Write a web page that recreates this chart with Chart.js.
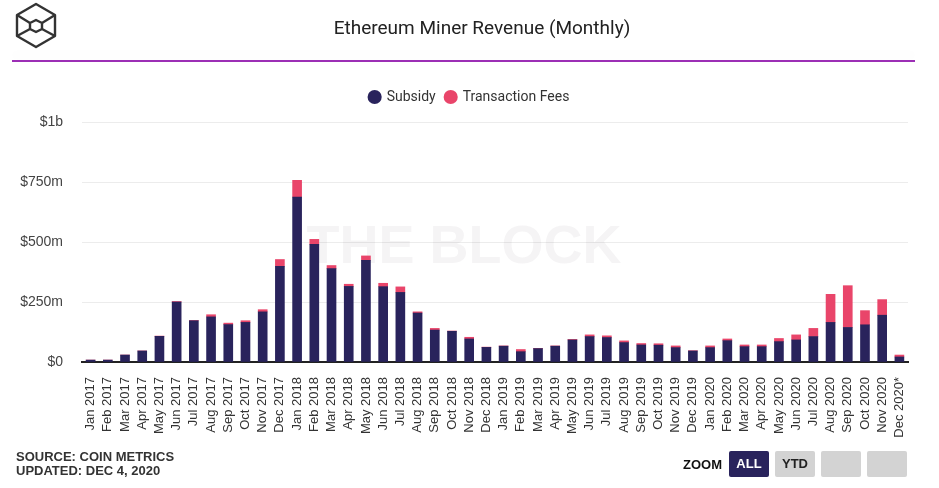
<!DOCTYPE html>
<html>
<head>
<meta charset="utf-8">
<script src="https://cdn.jsdelivr.net/npm/chart.js@4"></script>
<style>
  body { margin: 0; background: #fff; font-family: "Liberation Sans", Arial, sans-serif; }
  #wrap { position: relative; width: 939px; height: 488px; overflow: hidden; }
  #chart { position: absolute; left: 0; top: 0; }
  #logo { position: absolute; left: 12px; top: 1px; }
  #title { position: absolute; left: 0; top: 16px; width: 964px; text-align: center;
           font-family: Roboto, sans-serif; font-size: 19px; line-height: 24px; color: #222; }
  #rule { position: absolute; left: 12px; top: 60px; width: 903px; height: 2px; background: #9c2fb5;
          box-shadow: 0 -6px 8px rgba(0,0,0,0.04); }
  #source { position: absolute; left: 16px; top: 450px; font-weight: bold; font-size: 13px; line-height: 14px; color: #333; }
  #zoom { position: absolute; left: 683px; top: 451px; display: flex; align-items: center; font-size: 13px; font-weight: bold; }
  #zoom .lbl { margin-right: 7px; color: #111; }
  #zoom .btn { width: 40px; height: 26px; line-height: 26px; text-align: center; border-radius: 2px;
               background: #d3d3d3; color: #222; margin-right: 6px; }
  #zoom .btn.on { background: #29235c; color: #fff; }
</style>
</head>
<body>
<div id="wrap">
  <canvas id="chart" width="939" height="488"></canvas>
  <svg id="logo" width="48" height="50" viewBox="0 0 48 50">
    <g fill="none" stroke="#333" stroke-width="2.4" stroke-linejoin="round">
      <polygon points="24,3 43,14 43,35 24,46 5,35 5,14"/>
      <polygon points="24,19 30,22 30,28 24,31 18,28 18,22"/>
      <line x1="5" y1="14" x2="18" y2="22"/>
      <line x1="43" y1="14" x2="30" y2="22"/>
      <line x1="5" y1="35" x2="18" y2="28"/>
      <line x1="43" y1="35" x2="30" y2="28"/>
    </g>
  </svg>
  <div id="title">Ethereum Miner Revenue (Monthly)</div>
  <div id="rule"></div>
  <div id="source">SOURCE: COIN METRICS<br>UPDATED: DEC 4, 2020</div>
  <div id="zoom">
    <span class="lbl">ZOOM</span>
    <div class="btn on">ALL</div>
    <div class="btn">YTD</div>
    <div class="btn"></div>
    <div class="btn"></div>
  </div>
</div>
<script>
const months = ["Jan", "Feb", "Mar", "Apr", "May", "Jun", "Jul", "Aug", "Sep", "Oct", "Nov", "Dec"];
const years = [2017, 2018, 2019, 2020];

// values in $ millions
const subsidy = [
    8, 8, 29, 46, 107, 250, 172, 188, 156, 165, 209, 399,
    687, 490, 389, 315, 424, 314, 290, 204, 133, 128, 96, 61,
    66, 43, 56, 66, 92, 106, 102, 81, 71, 70, 60, 46,
    60, 89, 64, 64, 85, 92, 106, 165, 144, 155, 195, 21
];
const fees = [
    0, 0, 0, 0, 1, 2, 1, 9, 6, 7, 9, 28,
    70, 21, 13, 9, 18, 14, 23, 5, 7, 1, 7, 1,
    1, 9, 1, 1, 2, 7, 7, 7, 6, 6, 7, 1,
    7, 7, 7, 7, 13, 21, 34, 117, 174, 59, 65, 8
];
const tickLabels = ["$0", "$250m", "$500m", "$750m", "$1b"];

let labels = [];
years.forEach(y => months.forEach(m => labels.push(m + " " + y)));
labels[labels.length - 1] += "*";

// faint "THE BLOCK" mark behind the bars
const watermark = {
    id: "watermark",
    beforeDatasetsDraw(chart) {
        const ctx = chart.ctx;
        ctx.save();
        ctx.font = "bold 54px 'Liberation Sans', Arial, sans-serif";
        ctx.fillStyle = "rgba(60, 40, 60, 0.05)";
        ctx.textAlign = "center";
        ctx.textBaseline = "middle";
        ctx.fillText("THE BLOCK", 464, 248);
        ctx.restore();
    }
};

// a bit more room under the legend
const legendGap = {
    id: "legendGap",
    beforeInit(chart) {
        const fit = chart.legend.fit;
        chart.legend.fit = function () {
            fit.bind(chart.legend)();
            this.height += 8;
        };
    }
};

new Chart(document.getElementById("chart"), {
    type: "bar",
    data: {
        labels: labels,
        datasets: [{
            label: "Subsidy",
            data: subsidy,
            backgroundColor: "#29235c",
            barThickness: 9
        }, {
            label: "Transaction Fees",
            data: fees,
            backgroundColor: "#e9456a",
            barThickness: 9
        }]
    },
    options: {
        responsive: false,
        animation: false,
        layout: { padding: { left: 0, right: 0, top: 80, bottom: 46 } },
        plugins: {
            legend: {
                labels: {
                    usePointStyle: true,
                    pointStyle: "circle",
                    boxWidth: 10,
                    boxHeight: 10,
                    color: "#333",
                    font: { family: "Roboto", size: 14 }
                }
            },
            tooltip: { enabled: false }
        },
        scales: {
            x: {
                stacked: true,
                grid: { display: false, drawTicks: false },
                border: { display: true, color: "#222", width: 2 },
                ticks: {
                    autoSkip: false,
                    maxRotation: 90,
                    minRotation: 90,
                    padding: 15,
                    color: "#333",
                    font: { family: "Liberation Sans", size: 13 }
                },
                afterFit(scale) { scale.height = 80; }
            },
            y: {
                stacked: true,
                min: 0,
                max: 1000,
                grid: { color: "#ececec", drawTicks: false },
                border: { display: false },
                ticks: {
                    stepSize: 250,
                    padding: 19,
                    color: "#444",
                    font: { family: "Liberation Sans", size: 14 },
                    callback: (v, i) => tickLabels[i]
                },
                afterFit(scale) { scale.width = 82; }
            },
            // empty right-hand margin so the legend stays centred on the page
            yRight: {
                position: "right",
                grid: { display: false },
                border: { display: false },
                ticks: { display: false },
                afterFit(scale) { scale.width = 31; }
            }
        }
    },
    plugins: [watermark, legendGap]
});
</script>
</body>
</html>
